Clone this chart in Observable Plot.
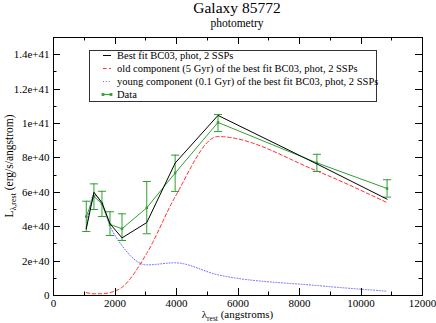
<!DOCTYPE html>
<html><head><meta charset="utf-8">
<script src="https://cdn.jsdelivr.net/npm/d3@7"></script>
<script src="https://cdn.jsdelivr.net/npm/@observablehq/plot@0.6"></script>
<style>
html,body{margin:0;padding:0;background:#fff;}
#head{position:relative;width:436px;height:30px;font-family:"Liberation Serif","Times New Roman",Times,serif;color:#000;}
#title{position:absolute;left:0;width:474px;top:0;text-align:center;font-size:15.5px;line-height:15.5px;}
#subtitle{position:absolute;left:0;width:474px;top:18px;text-align:center;font-size:11.5px;line-height:11.5px;}
#chart svg{display:block;}
</style></head>
<body>
<div id="head"><div id="title">Galaxy 85772</div><div id="subtitle">photometry</div></div>
<div id="chart"></div>
<script>
// wavelengths (angstroms)
const wavelength = [1066, 1315, 1576, 1837, 2228, 3033, 3956, 5350, 8565, 10848];
// observed photometry
const dataL   = [4.59e40, 5.76e40, 5.33e40, 4.13e40, 3.88e40, 5.10e40, 7.12e40, 1.006e41, 7.71e40, 6.22e40];
const dataLo  = [3.72e40, 5.00e40, 4.59e40, 3.49e40, 3.20e40, 3.59e40, 6.05e40, 9.53e40, 7.21e40, 5.72e40];
const dataHi  = [5.48e40, 6.49e40, 6.06e40, 4.87e40, 4.75e40, 6.63e40, 8.16e40, 1.052e41, 8.21e40, 6.73e40];
// best fit, old and young components
const bestFit = [3.88e40, 6.00e40, 5.40e40, 4.17e40, 3.35e40, 4.24e40, 7.70e40, 1.047e41, 7.65e40, 5.60e40];
const oldComp = [1.7e39, 1.0e39, 1.0e39, 1.7e39, 4.8e39, 2.45e40, 5.74e40, 9.24e40, 7.24e40, 5.40e40];
const youngComp = [3.90e40, 5.85e40, 5.30e40, 4.05e40, 2.90e40, 1.78e40, 1.90e40, 1.20e40, 5.8e39, 2.5e39];

const xTicks = [0, 2000, 4000, 6000, 8000, 10000, 12000];
const xMinor = [1000, 3000, 5000, 7000, 9000, 11000];
const yTicks = [0, 2e40, 4e40, 6e40, 8e40, 1e41, 1.2e41, 1.4e41];
const yMinor = [1e40, 3e40, 5e40, 7e40, 9e40, 1.1e41, 1.3e41];

const legendLabels = [
  "Best fit BC03, phot, 2 SSPs",
  "old component (5 Gyr) of the best fit BC03, phot, 2 SSPs",
  "young component (0.1 Gyr) of the best fit BC03, phot, 2 SSPs",
  "Data"
];

const GREEN = "#2f9f2f", RED = "#ff3030", BLUE = "#6a6aff";
const ff = "'Liberation Serif', 'Times New Roman', Times, serif";

const rows = wavelength.map((w, i) => ({w, d: dataL[i], lo: dataLo[i], hi: dataHi[i], best: bestFit[i], old: oldComp[i], young: youngComp[i]}));

const capSymbol = {draw(ctx, size) { const w = Math.sqrt(size); ctx.moveTo(-w, 0); ctx.lineTo(w, 0); }};

const fmtY = d => d === 0 ? "0" : d.toExponential().replace(/\.0+e/, "e");

const plot = Plot.plot({
  width: 436, height: 293,
  marginTop: 7, marginLeft: 53, marginRight: 14, marginBottom: 28,
  style: {fontFamily: ff, fontSize: "11px", color: "#000", background: "#fff"},
  x: {domain: [0, 12000], ticks: xTicks, tickFormat: d => String(d), tickSize: 0, tickPadding: 3.5, label: null},
  y: {domain: [0, 1.5e41], ticks: yTicks, tickFormat: fmtY, tickSize: 0, tickPadding: 4, label: null},
  marks: [
    Plot.line(rows, {x: "w", y: "old", stroke: RED, strokeWidth: 1, strokeDasharray: "3.5,2.5", curve: "monotone-x"}),
    Plot.line(rows, {x: "w", y: "young", stroke: BLUE, strokeWidth: 1, strokeDasharray: "1,1.8", curve: "monotone-x"}),
    Plot.ruleX(rows, {x: "w", y1: "lo", y2: "hi", stroke: GREEN, strokeWidth: 1}),
    Plot.dot(rows, {x: "w", y: "lo", symbol: capSymbol, r: 2.3, stroke: GREEN, strokeWidth: 1, fill: "none"}),
    Plot.dot(rows, {x: "w", y: "hi", symbol: capSymbol, r: 2.3, stroke: GREEN, strokeWidth: 1, fill: "none"}),
    Plot.line(rows, {x: "w", y: "d", stroke: GREEN, strokeWidth: 1}),
    Plot.dot(rows, {x: "w", y: "d", symbol: "square", r: 1.4, fill: GREEN, stroke: "none"}),
    Plot.line(rows, {x: "w", y: "best", stroke: "#000", strokeWidth: 1}),
    Plot.frame({stroke: "#000", strokeWidth: 1})
  ]
});
document.getElementById("chart").appendChild(plot);

// inward ticks on all sides, using the plot's scales
const svg = d3.select(plot);
const sx = plot.scale("x"), sy = plot.scale("y");
const [x0, x1] = sx.range, [y0, y1] = sy.range; // y0 bottom, y1 top
const g = svg.append("g").attr("stroke", "#000").attr("stroke-width", 1);
const addX = (vals, len) => vals.forEach(v => {
  const px = Math.round(sx.apply(v)) + 0.5;
  g.append("line").attr("x1", px).attr("x2", px).attr("y1", y0).attr("y2", y0 - len);
  g.append("line").attr("x1", px).attr("x2", px).attr("y1", y1).attr("y2", y1 + len);
});
const addY = (vals, len) => vals.forEach(v => {
  const py = Math.round(sy.apply(v)) + 0.5;
  g.append("line").attr("y1", py).attr("y2", py).attr("x1", x0).attr("x2", x0 + len);
  g.append("line").attr("y1", py).attr("y2", py).attr("x1", x1).attr("x2", x1 - len);
});
addX(xTicks, 7); addX(xMinor, 3.5); addY(yTicks, 7); addY(yMinor, 3.5);

// axis labels
const xl = svg.append("text").attr("x", (x0 + x1) / 2).attr("y", 288).attr("text-anchor", "middle")
  .attr("font-family", ff).attr("font-size", 11).attr("fill", "#000");
xl.append("tspan").text("λ");
xl.append("tspan").attr("font-size", 7.5).attr("dy", 2.5).text("rest");
xl.append("tspan").attr("dy", -2.5).text(" (angstroms)");

const yl = svg.append("text").attr("transform", `translate(13,${(y0 + y1) / 2}) rotate(-90)`).attr("text-anchor", "middle")
  .attr("font-family", ff).attr("font-size", 11.5).attr("fill", "#000");
yl.append("tspan").text("L");
yl.append("tspan").attr("font-size", 8).attr("dy", 3).text("λ,rest");
yl.append("tspan").attr("dy", -3).text(" (erg/s/angstrom)");

// legend
const lg = svg.append("g").attr("font-family", ff).attr("font-size", 10.5).attr("fill", "#000").attr("text-anchor", "start");
lg.append("rect").attr("x", 89.5).attr("y", 20.5).attr("width", 287).attr("height", 51)
  .attr("fill", "#fff").attr("stroke", "#333").attr("stroke-width", 1);
const styles = [
  {stroke: "#000", dash: null},
  {stroke: RED, dash: "3.5,2.5"},
  {stroke: BLUE, dash: "1,1.8"},
  {stroke: GREEN, dash: null, marker: true}
];
legendLabels.forEach((t, i) => {
  const cy = 25.5 + i * 13;
  const ln = lg.append("line").attr("x1", 103).attr("x2", 111).attr("y1", cy).attr("y2", cy)
    .attr("stroke", styles[i].stroke).attr("stroke-width", 1);
  if (styles[i].dash) ln.attr("stroke-dasharray", styles[i].dash);
  if (styles[i].marker) {
    [103, 111].forEach(mx => lg.append("rect").attr("x", mx - 1.4).attr("y", cy - 1.4).attr("width", 2.8).attr("height", 2.8).attr("fill", GREEN));
  }
  lg.append("text").attr("x", 117).attr("y", cy + 3.7).attr("text-anchor", "start").text(t);
});
</script>
</body></html>
